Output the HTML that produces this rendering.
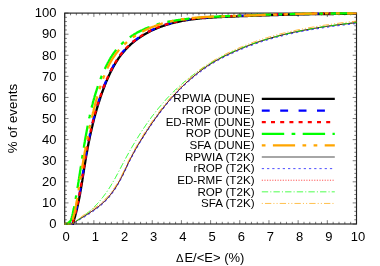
<!DOCTYPE html>
<html><head><meta charset="utf-8"><title>chart</title>
<style>html,body{margin:0;padding:0;background:#fff;}body{width:380px;height:266px;position:relative;overflow:hidden;font-family:"Liberation Sans",sans-serif;}</style></head>
<body>
<svg width="380" height="266" viewBox="0 0 380 266" style="position:absolute;left:0;top:0;will-change:transform">
<rect x="0" y="0" width="380" height="266" fill="#ffffff"/>
<defs><clipPath id="c"><rect x="63.7" y="11.9" width="293.8" height="213.1"/></clipPath>
</defs>
<g stroke="#222222" stroke-width="0.6" fill="none">
<rect x="64.7" y="13.1" width="291.8" height="210.9" stroke-width="1.15"/>
<path d="M64.70,224.0v-3.8M64.70,13.1v3.8M70.54,224.0v-2.2M70.54,13.1v2.2M76.37,224.0v-2.2M76.37,13.1v2.2M82.21,224.0v-2.2M82.21,13.1v2.2M88.04,224.0v-2.2M88.04,13.1v2.2M93.88,224.0v-3.8M93.88,13.1v3.8M99.72,224.0v-2.2M99.72,13.1v2.2M105.55,224.0v-2.2M105.55,13.1v2.2M111.39,224.0v-2.2M111.39,13.1v2.2M117.22,224.0v-2.2M117.22,13.1v2.2M123.06,224.0v-3.8M123.06,13.1v3.8M128.90,224.0v-2.2M128.90,13.1v2.2M134.73,224.0v-2.2M134.73,13.1v2.2M140.57,224.0v-2.2M140.57,13.1v2.2M146.40,224.0v-2.2M146.40,13.1v2.2M152.24,224.0v-3.8M152.24,13.1v3.8M158.08,224.0v-2.2M158.08,13.1v2.2M163.91,224.0v-2.2M163.91,13.1v2.2M169.75,224.0v-2.2M169.75,13.1v2.2M175.58,224.0v-2.2M175.58,13.1v2.2M181.42,224.0v-3.8M181.42,13.1v3.8M187.26,224.0v-2.2M187.26,13.1v2.2M193.09,224.0v-2.2M193.09,13.1v2.2M198.93,224.0v-2.2M198.93,13.1v2.2M204.76,224.0v-2.2M204.76,13.1v2.2M210.60,224.0v-3.8M210.60,13.1v3.8M216.44,224.0v-2.2M216.44,13.1v2.2M222.27,224.0v-2.2M222.27,13.1v2.2M228.11,224.0v-2.2M228.11,13.1v2.2M233.94,224.0v-2.2M233.94,13.1v2.2M239.78,224.0v-3.8M239.78,13.1v3.8M245.62,224.0v-2.2M245.62,13.1v2.2M251.45,224.0v-2.2M251.45,13.1v2.2M257.29,224.0v-2.2M257.29,13.1v2.2M263.12,224.0v-2.2M263.12,13.1v2.2M268.96,224.0v-3.8M268.96,13.1v3.8M274.80,224.0v-2.2M274.80,13.1v2.2M280.63,224.0v-2.2M280.63,13.1v2.2M286.47,224.0v-2.2M286.47,13.1v2.2M292.30,224.0v-2.2M292.30,13.1v2.2M298.14,224.0v-3.8M298.14,13.1v3.8M303.98,224.0v-2.2M303.98,13.1v2.2M309.81,224.0v-2.2M309.81,13.1v2.2M315.65,224.0v-2.2M315.65,13.1v2.2M321.48,224.0v-2.2M321.48,13.1v2.2M327.32,224.0v-3.8M327.32,13.1v3.8M333.16,224.0v-2.2M333.16,13.1v2.2M338.99,224.0v-2.2M338.99,13.1v2.2M344.83,224.0v-2.2M344.83,13.1v2.2M350.66,224.0v-2.2M350.66,13.1v2.2M356.50,224.0v-3.8M356.50,13.1v3.8M64.7,224.00h3.8M356.5,224.00h-3.8M64.7,219.78h2.2M356.5,219.78h-2.2M64.7,215.56h2.2M356.5,215.56h-2.2M64.7,211.35h2.2M356.5,211.35h-2.2M64.7,207.13h2.2M356.5,207.13h-2.2M64.7,202.91h3.8M356.5,202.91h-3.8M64.7,198.69h2.2M356.5,198.69h-2.2M64.7,194.47h2.2M356.5,194.47h-2.2M64.7,190.26h2.2M356.5,190.26h-2.2M64.7,186.04h2.2M356.5,186.04h-2.2M64.7,181.82h3.8M356.5,181.82h-3.8M64.7,177.60h2.2M356.5,177.60h-2.2M64.7,173.38h2.2M356.5,173.38h-2.2M64.7,169.17h2.2M356.5,169.17h-2.2M64.7,164.95h2.2M356.5,164.95h-2.2M64.7,160.73h3.8M356.5,160.73h-3.8M64.7,156.51h2.2M356.5,156.51h-2.2M64.7,152.29h2.2M356.5,152.29h-2.2M64.7,148.08h2.2M356.5,148.08h-2.2M64.7,143.86h2.2M356.5,143.86h-2.2M64.7,139.64h3.8M356.5,139.64h-3.8M64.7,135.42h2.2M356.5,135.42h-2.2M64.7,131.20h2.2M356.5,131.20h-2.2M64.7,126.99h2.2M356.5,126.99h-2.2M64.7,122.77h2.2M356.5,122.77h-2.2M64.7,118.55h3.8M356.5,118.55h-3.8M64.7,114.33h2.2M356.5,114.33h-2.2M64.7,110.11h2.2M356.5,110.11h-2.2M64.7,105.90h2.2M356.5,105.90h-2.2M64.7,101.68h2.2M356.5,101.68h-2.2M64.7,97.46h3.8M356.5,97.46h-3.8M64.7,93.24h2.2M356.5,93.24h-2.2M64.7,89.02h2.2M356.5,89.02h-2.2M64.7,84.81h2.2M356.5,84.81h-2.2M64.7,80.59h2.2M356.5,80.59h-2.2M64.7,76.37h3.8M356.5,76.37h-3.8M64.7,72.15h2.2M356.5,72.15h-2.2M64.7,67.93h2.2M356.5,67.93h-2.2M64.7,63.72h2.2M356.5,63.72h-2.2M64.7,59.50h2.2M356.5,59.50h-2.2M64.7,55.28h3.8M356.5,55.28h-3.8M64.7,51.06h2.2M356.5,51.06h-2.2M64.7,46.84h2.2M356.5,46.84h-2.2M64.7,42.63h2.2M356.5,42.63h-2.2M64.7,38.41h2.2M356.5,38.41h-2.2M64.7,34.19h3.8M356.5,34.19h-3.8M64.7,29.97h2.2M356.5,29.97h-2.2M64.7,25.75h2.2M356.5,25.75h-2.2M64.7,21.54h2.2M356.5,21.54h-2.2M64.7,17.32h2.2M356.5,17.32h-2.2M64.7,13.10h3.8M356.5,13.10h-3.8"/>
</g>
<g fill="none" clip-path="url(#c)" stroke-linejoin="round">
<path d="M64.7,224.0 L72.8,224.2 73.1,223.1 73.4,222.1 73.7,221.1 74.0,220.1 74.3,219.0 74.6,218.0 74.9,217.0 75.2,216.0 75.4,214.9 75.7,213.9 76.0,212.9 76.2,211.9 76.5,210.8 76.7,209.8 77.0,208.8 77.2,207.7 77.4,206.7 77.7,205.7 77.9,204.6 78.1,203.6 78.3,202.6 78.6,201.5 78.8,200.5 79.0,199.4 79.2,198.4 79.4,197.4 79.6,196.3 79.8,195.3 80.0,194.2 80.2,193.2 80.3,192.2 80.5,191.1 80.7,190.1 80.9,189.0 81.1,188.0 81.2,186.9 81.4,185.9 81.6,184.8 81.8,183.8 81.9,182.7 82.1,181.7 82.3,180.7 82.4,179.6 82.6,178.6 82.8,177.5 82.9,176.5 83.1,175.4 83.3,174.4 83.4,173.3 83.6,172.3 83.8,171.2 83.9,170.2 84.1,169.1 84.2,168.1 84.4,167.0 84.6,166.0 84.7,164.9 84.9,163.9 85.1,162.8 85.3,161.8 85.4,160.7 85.6,159.7 85.8,158.6 86.0,157.6 86.1,156.5 86.3,155.5 86.5,154.4 86.7,153.4 86.9,152.3 87.1,151.3 87.3,150.2 87.4,149.2 87.6,148.1 87.8,147.1 88.0,146.0 88.2,145.0 88.4,144.0 88.6,142.9 88.8,141.9 89.1,140.8 89.3,139.8 89.5,138.7 89.7,137.7 89.9,136.6 90.1,135.6 90.4,134.6 90.6,133.5 90.8,132.5 91.1,131.4 91.3,130.4 91.5,129.4 91.8,128.3 92.0,127.3 92.3,126.2 92.5,125.2 92.7,124.2 93.0,123.1 93.3,122.1 93.5,121.1 93.8,120.0 94.0,119.0 94.3,118.0 94.6,116.9 94.9,115.9 95.1,114.9 95.4,113.9 95.7,112.8 96.0,111.8 96.3,110.8 96.6,109.7 96.9,108.7 97.2,107.7 97.5,106.7 97.8,105.7 98.1,104.6 98.4,103.6 98.7,102.6 99.1,101.6 99.4,100.6 99.7,99.6 100.1,98.6 100.4,97.5 100.7,96.5 101.1,95.5 101.4,94.5 101.8,93.5 102.1,92.5 102.5,91.5 102.9,90.5 103.2,89.5 103.6,88.5 104.0,87.5 104.4,86.5 104.8,85.5 105.1,84.5 105.5,83.5 105.9,82.5 106.3,81.6 106.8,80.6 107.2,79.6 107.6,78.6 108.0,77.7 108.5,76.7 108.9,75.7 109.3,74.8 109.8,73.8 110.2,72.8 110.7,71.9 111.2,70.9 111.7,70.0 112.2,69.1 112.6,68.1 113.1,67.2 113.7,66.3 114.2,65.4 114.7,64.5 115.2,63.6 115.8,62.7 116.3,61.8 116.9,60.9 117.5,60.0 118.0,59.1 118.6,58.3 119.2,57.4 119.8,56.6 120.4,55.7 121.1,54.9 121.7,54.1 122.4,53.3 123.0,52.5 123.7,51.7 124.4,50.9 125.1,50.1 125.8,49.3 126.5,48.6 127.2,47.8 128.0,47.1 128.7,46.3 129.5,45.6 130.2,44.9 131.0,44.2 131.8,43.5 132.6,42.8 133.4,42.1 134.3,41.5 135.1,40.8 135.9,40.2 136.8,39.5 137.6,38.9 138.5,38.3 139.4,37.7 140.3,37.1 141.2,36.5 142.1,35.9 143.0,35.4 143.9,34.8 144.8,34.3 145.7,33.7 146.6,33.2 147.6,32.7 148.5,32.2 149.4,31.7 150.4,31.2 151.3,30.8 152.3,30.3 153.2,29.9 154.2,29.4 155.2,29.0 156.1,28.6 157.1,28.2 158.1,27.8 159.1,27.4 160.0,27.0 161.0,26.7 162.0,26.3 163.0,26.0 164.0,25.6 165.0,25.3 166.0,25.0 167.0,24.7 168.0,24.4 169.0,24.1 170.0,23.8 171.0,23.5 172.0,23.2 173.0,23.0 174.1,22.7 175.1,22.5 176.1,22.2 177.1,22.0 178.2,21.8 179.2,21.5 180.2,21.3 181.2,21.1 182.3,20.9 183.3,20.7 184.4,20.6 185.4,20.4 186.5,20.2 187.5,20.0 188.5,19.9 189.6,19.7 190.6,19.6 191.7,19.4 192.8,19.3 193.8,19.1 194.9,19.0 195.9,18.9 197.0,18.8 198.0,18.7 199.1,18.5 200.2,18.4 201.2,18.3 202.3,18.2 203.4,18.1 204.4,18.1 205.5,18.0 206.6,17.9 207.6,17.8 208.7,17.7 209.8,17.7 210.8,17.6 211.9,17.5 213.0,17.4 214.1,17.4 215.1,17.3 216.2,17.3 217.3,17.2 218.4,17.1 219.4,17.1 220.5,17.0 221.6,17.0 222.6,16.9 223.7,16.9 224.8,16.8 225.9,16.8 226.9,16.8 228.0,16.7 229.1,16.7 230.2,16.6 231.2,16.6 232.3,16.5 233.4,16.5 234.4,16.5 235.5,16.4 236.6,16.4 237.6,16.3 238.7,16.3 239.8,16.2 240.8,16.2 241.9,16.2 243.0,16.1 244.0,16.1 245.1,16.0 246.2,16.0 247.2,16.0 248.3,15.9 249.4,15.9 250.4,15.8 251.5,15.8 252.5,15.8 253.6,15.7 254.7,15.7 255.7,15.7 256.8,15.6 257.8,15.6 258.9,15.6 260.0,15.5 261.0,15.5 262.1,15.4 263.1,15.4 264.2,15.4 265.3,15.3 266.3,15.3 267.4,15.3 268.4,15.2 269.5,15.2 270.5,15.2 271.6,15.1 272.7,15.1 273.7,15.1 274.8,15.1 275.8,15.0 276.9,15.0 277.9,15.0 279.0,14.9 280.0,14.9 281.1,14.9 282.2,14.8 283.2,14.8 284.3,14.8 285.3,14.8 286.4,14.7 287.4,14.7 288.5,14.7 289.5,14.7 290.6,14.6 291.7,14.6 292.7,14.6 293.8,14.6 294.8,14.5 295.9,14.5 296.9,14.5 298.0,14.5 299.1,14.4 300.1,14.4 301.2,14.4 302.2,14.4 303.3,14.4 304.3,14.3 305.4,14.3 306.4,14.3 307.5,14.3 308.6,14.3 309.6,14.2 310.7,14.2 311.7,14.2 312.8,14.2 313.9,14.2 314.9,14.2 316.0,14.1 317.0,14.1 318.1,14.1 319.1,14.1 320.2,14.1 321.3,14.1 322.3,14.1 323.4,14.0 324.5,14.0 325.5,14.0 326.6,14.0 327.6,14.0 328.7,14.0 329.8,14.0 330.8,14.0 331.9,14.0 333.0,14.0 334.0,13.9 335.1,13.9 336.2,13.9 337.2,13.9 338.3,13.9 339.4,13.9 340.4,13.9 341.5,13.9 342.6,13.9 343.6,13.9 344.7,13.9 345.8,13.9 346.8,13.9 347.9,13.9 349.0,13.9 350.1,13.9 351.1,13.9 352.2,13.9 353.3,13.9 354.3,13.9 355.4,13.9 356.5,13.9" stroke="#000000" stroke-width="2.3"/>
<path d="M64.7,224.0 L72.3,224.0 72.6,223.0 72.9,222.0 73.2,220.9 73.5,219.9 73.8,218.9 74.1,217.9 74.4,216.9 74.7,215.8 75.0,214.8 75.2,213.8 75.5,212.8 75.7,211.7 76.0,210.7 76.2,209.7 76.5,208.7 76.7,207.6 77.0,206.6 77.2,205.6 77.4,204.5 77.6,203.5 77.9,202.5 78.1,201.4 78.3,200.4 78.5,199.3 78.7,198.3 78.9,197.3 79.1,196.2 79.3,195.2 79.5,194.1 79.7,193.1 79.9,192.1 80.0,191.0 80.2,190.0 80.4,188.9 80.6,187.9 80.7,186.8 80.9,185.8 81.1,184.8 81.3,183.7 81.4,182.7 81.6,181.6 81.8,180.6 81.9,179.5 82.1,178.5 82.3,177.4 82.4,176.4 82.6,175.3 82.8,174.3 82.9,173.2 83.1,172.2 83.3,171.1 83.4,170.1 83.6,169.0 83.8,168.0 83.9,166.9 84.1,165.9 84.3,164.8 84.4,163.8 84.6,162.7 84.8,161.7 84.9,160.6 85.1,159.6 85.3,158.5 85.5,157.5 85.6,156.4 85.8,155.4 86.0,154.3 86.2,153.3 86.4,152.2 86.6,151.2 86.8,150.1 87.0,149.1 87.1,148.0 87.3,147.0 87.5,146.0 87.7,144.9 87.9,143.9 88.2,142.8 88.4,141.8 88.6,140.7 88.8,139.7 89.0,138.6 89.2,137.6 89.4,136.5 89.7,135.5 89.9,134.5 90.1,133.4 90.3,132.4 90.6,131.3 90.8,130.3 91.0,129.2 91.3,128.2 91.5,127.2 91.8,126.1 92.0,125.1 92.3,124.0 92.5,123.0 92.8,122.0 93.0,120.9 93.3,119.9 93.6,118.9 93.8,117.8 94.1,116.8 94.4,115.8 94.7,114.7 94.9,113.7 95.2,112.7 95.5,111.7 95.8,110.6 96.1,109.6 96.4,108.6 96.7,107.6 97.0,106.5 97.3,105.5 97.6,104.5 97.9,103.5 98.3,102.5 98.6,101.4 98.9,100.4 99.2,99.4 99.6,98.4 99.9,97.4 100.3,96.4 100.6,95.4 101.0,94.4 101.3,93.3 101.7,92.3 102.0,91.3 102.4,90.3 102.8,89.3 103.1,88.3 103.5,87.3 103.9,86.3 104.3,85.3 104.7,84.3 105.1,83.4 105.5,82.4 105.9,81.4 106.3,80.4 106.7,79.4 107.1,78.4 107.6,77.4 108.0,76.5 108.4,75.5 108.9,74.5 109.3,73.6 109.8,72.6 110.3,71.7 110.7,70.7 111.2,69.8 111.7,68.8 112.2,67.9 112.7,67.0 113.2,66.0 113.7,65.1 114.3,64.2 114.8,63.3 115.4,62.4 115.9,61.5 116.5,60.6 117.0,59.7 117.6,58.9 118.2,58.0 118.8,57.1 119.4,56.3 120.0,55.4 120.7,54.6 121.3,53.8 122.0,52.9 122.6,52.1 123.3,51.3 124.0,50.5 124.7,49.8 125.4,49.0 126.1,48.2 126.9,47.4 127.6,46.7 128.4,46.0 129.1,45.2 129.9,44.5 130.7,43.8 131.5,43.1 132.3,42.4 133.1,41.7 133.9,41.1 134.8,40.4 135.6,39.8 136.5,39.1 137.4,38.5 138.2,37.9 139.1,37.3 140.0,36.7 140.9,36.1 141.8,35.5 142.7,34.9 143.6,34.4 144.5,33.8 145.5,33.3 146.4,32.8 147.3,32.3 148.3,31.8 149.2,31.3 150.2,30.8 151.1,30.3 152.1,29.9 153.0,29.4 154.0,29.0 155.0,28.5 155.9,28.1 156.9,27.7 157.9,27.3 158.9,26.9 159.9,26.6 160.8,26.2 161.8,25.8 162.8,25.5 163.8,25.1 164.8,24.8 165.8,24.5 166.8,24.2 167.8,23.9 168.8,23.6 169.9,23.3 170.9,23.0 171.9,22.7 172.9,22.5 173.9,22.2 175.0,22.0 176.0,21.7 177.0,21.5 178.0,21.3 179.1,21.1 180.1,20.8 181.2,20.6 182.2,20.4 183.2,20.2 184.3,20.1 185.3,19.9 186.4,19.7 187.4,19.5 188.5,19.4 189.5,19.2 190.6,19.1 191.6,18.9 192.7,18.8 193.7,18.7 194.8,18.5 195.9,18.4 196.9,18.3 198.0,18.2 199.1,18.1 200.1,17.9 201.2,17.8 202.3,17.7 203.3,17.6 204.4,17.6 205.5,17.5 206.5,17.4 207.6,17.3 208.7,17.2 209.7,17.2 210.8,17.1 211.9,17.0 213.0,16.9 214.0,16.9 215.1,16.8 216.2,16.8 217.3,16.7 218.3,16.6 219.4,16.6 220.5,16.5 221.6,16.5 222.6,16.4 223.7,16.4 224.8,16.3 225.8,16.3 226.9,16.3 228.0,16.2 229.1,16.2 230.1,16.1 231.2,16.1 232.3,16.0 233.3,16.0 234.4,16.0 235.5,15.9 236.6,15.9 237.6,15.8 238.7,15.8 239.8,15.7 240.8,15.7 241.9,15.7 243.0,15.6 244.0,15.6 245.1,15.5 246.1,15.5 247.2,15.5 248.3,15.4 249.3,15.4 250.4,15.3 251.5,15.3 252.5,15.3 253.6,15.2 254.6,15.2 255.7,15.2 256.8,15.1 257.8,15.1 258.9,15.1 259.9,15.0 261.0,15.0 262.1,14.9 263.1,14.9 264.2,14.9 265.2,14.8 266.3,14.8 267.4,14.8 268.4,14.7 269.5,14.7 270.5,14.7 271.6,14.6 272.6,14.6 273.7,14.6 274.8,14.6 275.8,14.5 276.9,14.5 277.9,14.5 279.0,14.4 280.0,14.4 281.1,14.4 282.1,14.3 283.2,14.3 284.3,14.3 285.3,14.3 286.4,14.2 287.4,14.2 288.5,14.2 289.5,14.2 290.6,14.1 291.6,14.1 292.7,14.1 293.8,14.1 294.8,14.0 295.9,14.0 296.9,14.0 298.0,14.0 299.0,13.9 300.1,13.9 301.2,13.9 302.2,13.9 303.3,13.9 304.3,13.8 305.4,13.8 306.4,13.8 307.5,13.8 308.6,13.8 309.6,13.7 310.7,13.7 311.7,13.7 312.8,13.7 313.8,13.7 314.9,13.7 316.0,13.6 317.0,13.6 318.1,13.6 319.1,13.6 320.2,13.6 321.3,13.6 322.3,13.6 323.4,13.5 324.4,13.5 325.5,13.5 326.6,13.5 327.6,13.5 328.7,13.5 329.8,13.5 330.8,13.5 331.9,13.5 333.0,13.5 334.0,13.4 335.1,13.4 336.1,13.4 337.2,13.4 338.3,13.4 339.3,13.4 340.4,13.4 341.5,13.4 342.6,13.4 343.6,13.4 344.7,13.4 345.8,13.4 346.8,13.4 347.9,13.4 349.0,13.4 350.1,13.4 351.1,13.4 352.2,13.4 353.3,13.4 354.3,13.4 355.4,13.4 356.5,13.4" stroke="#0000ff" stroke-width="2.3" stroke-dasharray="7.90,10.50"/>
<path d="M64.7,224.0 L72.3,224.0 72.6,223.0 72.9,222.0 73.2,220.9 73.5,219.9 73.8,218.9 74.1,217.9 74.4,216.9 74.7,215.8 75.0,214.8 75.2,213.8 75.5,212.8 75.7,211.7 76.0,210.7 76.2,209.7 76.5,208.7 76.7,207.6 77.0,206.6 77.2,205.6 77.4,204.5 77.6,203.5 77.9,202.5 78.1,201.4 78.3,200.4 78.5,199.3 78.7,198.3 78.9,197.3 79.1,196.2 79.3,195.2 79.5,194.1 79.7,193.1 79.9,192.1 80.0,191.0 80.2,190.0 80.4,188.9 80.6,187.9 80.7,186.8 80.9,185.8 81.1,184.8 81.3,183.7 81.4,182.7 81.6,181.6 81.8,180.6 81.9,179.5 82.1,178.5 82.3,177.4 82.4,176.4 82.6,175.3 82.8,174.3 82.9,173.2 83.1,172.2 83.3,171.1 83.4,170.1 83.6,169.0 83.8,168.0 83.9,166.9 84.1,165.9 84.3,164.8 84.4,163.8 84.6,162.7 84.8,161.7 84.9,160.6 85.1,159.6 85.3,158.5 85.5,157.5 85.6,156.4 85.8,155.4 86.0,154.3 86.2,153.3 86.4,152.2 86.6,151.2 86.8,150.1 87.0,149.1 87.1,148.0 87.3,147.0 87.5,146.0 87.7,144.9 87.9,143.9 88.2,142.8 88.4,141.8 88.6,140.7 88.8,139.7 89.0,138.6 89.2,137.6 89.4,136.5 89.7,135.5 89.9,134.5 90.1,133.4 90.3,132.4 90.6,131.3 90.8,130.3 91.0,129.2 91.3,128.2 91.5,127.2 91.8,126.1 92.0,125.1 92.3,124.0 92.5,123.0 92.8,122.0 93.0,120.9 93.3,119.9 93.6,118.9 93.8,117.8 94.1,116.8 94.4,115.8 94.7,114.7 94.9,113.7 95.2,112.7 95.5,111.7 95.8,110.6 96.1,109.6 96.4,108.6 96.7,107.6 97.0,106.5 97.3,105.5 97.6,104.5 97.9,103.5 98.3,102.5 98.6,101.4 98.9,100.4 99.2,99.4 99.6,98.4 99.9,97.4 100.3,96.4 100.6,95.4 101.0,94.4 101.3,93.3 101.7,92.3 102.0,91.3 102.4,90.3 102.8,89.3 103.1,88.3 103.5,87.3 103.9,86.3 104.3,85.3 104.7,84.3 105.1,83.4 105.5,82.4 105.9,81.4 106.3,80.4 106.7,79.4 107.1,78.4 107.6,77.4 108.0,76.5 108.4,75.5 108.9,74.5 109.3,73.6 109.8,72.6 110.3,71.7 110.7,70.7 111.2,69.8 111.7,68.8 112.2,67.9 112.7,67.0 113.2,66.0 113.7,65.1 114.3,64.2 114.8,63.3 115.4,62.4 115.9,61.5 116.5,60.6 117.0,59.7 117.6,58.9 118.2,58.0 118.8,57.1 119.4,56.3 120.0,55.4 120.7,54.6 121.3,53.8 122.0,52.9 122.6,52.1 123.3,51.3 124.0,50.5 124.7,49.8 125.4,49.0 126.1,48.2 126.9,47.4 127.6,46.7 128.4,46.0 129.1,45.2 129.9,44.5 130.7,43.8 131.5,43.1 132.3,42.4 133.1,41.7 133.9,41.1 134.8,40.4 135.6,39.8 136.5,39.1 137.4,38.5 138.2,37.9 139.1,37.3 140.0,36.7 140.9,36.1 141.8,35.5 142.7,34.9 143.6,34.4 144.5,33.8 145.5,33.3 146.4,32.8 147.3,32.3 148.3,31.8 149.2,31.3 150.2,30.8 151.1,30.3 152.1,29.9 153.0,29.4 154.0,29.0 155.0,28.5 155.9,28.1 156.9,27.7 157.9,27.3 158.9,26.9 159.9,26.6 160.8,26.2 161.8,25.8 162.8,25.5 163.8,25.1 164.8,24.8 165.8,24.5 166.8,24.2 167.8,23.9 168.8,23.6 169.9,23.3 170.9,23.0 171.9,22.7 172.9,22.5 173.9,22.2 175.0,22.0 176.0,21.7 177.0,21.5 178.0,21.3 179.1,21.1 180.1,20.8 181.2,20.6 182.2,20.4 183.2,20.2 184.3,20.1 185.3,19.9 186.4,19.7 187.4,19.5 188.5,19.4 189.5,19.2 190.6,19.1 191.6,18.9 192.7,18.8 193.7,18.7 194.8,18.5 195.9,18.4 196.9,18.3 198.0,18.2 199.1,18.1 200.1,17.9 201.2,17.8 202.3,17.7 203.3,17.6 204.4,17.6 205.5,17.5 206.5,17.4 207.6,17.3 208.7,17.2 209.7,17.2 210.8,17.1 211.9,17.0 213.0,16.9 214.0,16.9 215.1,16.8 216.2,16.8 217.3,16.7 218.3,16.6 219.4,16.6 220.5,16.5 221.6,16.5 222.6,16.4 223.7,16.4 224.8,16.3 225.8,16.3 226.9,16.3 228.0,16.2 229.1,16.2 230.1,16.1 231.2,16.1 232.3,16.0 233.3,16.0 234.4,16.0 235.5,15.9 236.6,15.9 237.6,15.8 238.7,15.8 239.8,15.7 240.8,15.7 241.9,15.7 243.0,15.6 244.0,15.6 245.1,15.5 246.1,15.5 247.2,15.5 248.3,15.4 249.3,15.4 250.4,15.3 251.5,15.3 252.5,15.3 253.6,15.2 254.6,15.2 255.7,15.2 256.8,15.1 257.8,15.1 258.9,15.1 259.9,15.0 261.0,15.0 262.1,14.9 263.1,14.9 264.2,14.9 265.2,14.8 266.3,14.8 267.4,14.8 268.4,14.7 269.5,14.7 270.5,14.7 271.6,14.6 272.6,14.6 273.7,14.6 274.8,14.6 275.8,14.5 276.9,14.5 277.9,14.5 279.0,14.4 280.0,14.4 281.1,14.4 282.1,14.3 283.2,14.3 284.3,14.3 285.3,14.3 286.4,14.2 287.4,14.2 288.5,14.2 289.5,14.2 290.6,14.1 291.6,14.1 292.7,14.1 293.8,14.1 294.8,14.0 295.9,14.0 296.9,14.0 298.0,14.0 299.0,13.9 300.1,13.9 301.2,13.9 302.2,13.9 303.3,13.9 304.3,13.8 305.4,13.8 306.4,13.8 307.5,13.8 308.6,13.8 309.6,13.7 310.7,13.7 311.7,13.7 312.8,13.7 313.8,13.7 314.9,13.7 316.0,13.6 317.0,13.6 318.1,13.6 319.1,13.6 320.2,13.6 321.3,13.6 322.3,13.6 323.4,13.5 324.4,13.5 325.5,13.5 326.6,13.5 327.6,13.5 328.7,13.5 329.8,13.5 330.8,13.5 331.9,13.5 333.0,13.5 334.0,13.4 335.1,13.4 336.1,13.4 337.2,13.4 338.3,13.4 339.3,13.4 340.4,13.4 341.5,13.4 342.6,13.4 343.6,13.4 344.7,13.4 345.8,13.4 346.8,13.4 347.9,13.4 349.0,13.4 350.1,13.4 351.1,13.4 352.2,13.4 353.3,13.4 354.3,13.4 355.4,13.4 356.5,13.4" stroke="#ff0000" stroke-width="2.3" stroke-dasharray="4.00,5.20"/>
<path d="M64.7,224.0 L67.5,224.0 67.8,223.1 69.1,222.2 70.1,221.3 70.8,220.3 71.2,219.4 71.5,218.4 71.8,217.5 72.0,216.5 72.3,215.5 72.5,214.5 72.8,213.5 73.0,212.5 73.2,211.5 73.4,210.5 73.6,209.4 73.9,208.4 74.1,207.4 74.3,206.3 74.5,205.3 74.7,204.2 74.9,203.2 75.1,202.1 75.3,201.1 75.5,200.0 75.6,199.0 75.8,197.9 76.0,196.8 76.2,195.8 76.4,194.7 76.6,193.7 76.7,192.6 76.9,191.5 77.1,190.5 77.3,189.4 77.5,188.3 77.6,187.3 77.8,186.2 78.0,185.1 78.1,184.1 78.3,183.0 78.5,181.9 78.6,180.9 78.8,179.8 79.0,178.7 79.1,177.7 79.3,176.6 79.5,175.5 79.6,174.4 79.8,173.4 80.0,172.3 80.1,171.2 80.3,170.2 80.5,169.1 80.6,168.0 80.8,166.9 80.9,165.9 81.1,164.8 81.3,163.7 81.4,162.7 81.6,161.6 81.8,160.5 81.9,159.4 82.1,158.4 82.3,157.3 82.4,156.2 82.6,155.2 82.8,154.1 82.9,153.0 83.1,151.9 83.3,150.9 83.4,149.8 83.6,148.7 83.8,147.7 84.0,146.6 84.1,145.5 84.3,144.4 84.5,143.4 84.7,142.3 84.9,141.2 85.0,140.2 85.2,139.1 85.4,138.0 85.6,136.9 85.8,135.9 86.0,134.8 86.2,133.7 86.4,132.7 86.6,131.6 86.8,130.5 87.0,129.5 87.2,128.4 87.4,127.3 87.6,126.3 87.8,125.2 88.0,124.1 88.2,123.1 88.4,122.0 88.6,120.9 88.9,119.9 89.1,118.8 89.3,117.8 89.6,116.7 89.8,115.6 90.0,114.6 90.3,113.5 90.5,112.5 90.8,111.4 91.0,110.3 91.3,109.3 91.5,108.2 91.8,107.2 92.0,106.1 92.3,105.1 92.6,104.0 92.8,103.0 93.1,101.9 93.4,100.9 93.7,99.8 94.0,98.8 94.3,97.8 94.6,96.7 94.9,95.7 95.2,94.6 95.5,93.6 95.8,92.6 96.2,91.5 96.5,90.5 96.8,89.5 97.1,88.5 97.5,87.4 97.8,86.4 98.2,85.4 98.6,84.4 98.9,83.3 99.3,82.3 99.7,81.3 100.0,80.3 100.4,79.3 100.8,78.3 101.2,77.3 101.6,76.3 102.0,75.3 102.5,74.3 102.9,73.3 103.3,72.3 103.7,71.3 104.2,70.4 104.6,69.4 105.1,68.4 105.5,67.4 106.0,66.5 106.5,65.5 107.0,64.5 107.5,63.6 108.0,62.6 108.5,61.7 109.0,60.7 109.5,59.8 110.1,58.8 110.6,57.9 111.2,57.0 111.8,56.1 112.3,55.2 112.9,54.3 113.5,53.4 114.2,52.5 114.8,51.7 115.4,50.8 116.1,50.0 116.8,49.1 117.5,48.3 118.2,47.5 118.9,46.7 119.6,45.9 120.4,45.1 121.2,44.3 122.0,43.6 122.8,42.8 123.6,42.1 124.4,41.4 125.3,40.7 126.1,40.0 127.0,39.3 127.9,38.6 128.8,38.0 129.7,37.3 130.6,36.7 131.5,36.1 132.4,35.5 133.4,34.9 134.3,34.3 135.3,33.7 136.2,33.2 137.2,32.6 138.1,32.1 139.1,31.6 140.1,31.1 141.1,30.6 142.0,30.2 143.0,29.7 144.0,29.3 145.0,28.8 146.0,28.4 147.0,28.0 148.0,27.6 149.0,27.2 150.0,26.8 151.0,26.5 152.0,26.1 153.0,25.8 154.0,25.4 155.0,25.1 156.0,24.8 157.1,24.5 158.1,24.2 159.1,23.9 160.1,23.6 161.2,23.4 162.2,23.1 163.2,22.9 164.3,22.6 165.3,22.4 166.3,22.2 167.4,21.9 168.4,21.7 169.5,21.5 170.5,21.3 171.6,21.1 172.6,20.9 173.7,20.8 174.7,20.6 175.8,20.4 176.9,20.2 177.9,20.1 179.0,19.9 180.1,19.8 181.1,19.6 182.2,19.5 183.3,19.4 184.3,19.2 185.4,19.1 186.5,19.0 187.5,18.8 188.6,18.7 189.7,18.6 190.8,18.5 191.9,18.4 192.9,18.3 194.0,18.2 195.1,18.1 196.2,18.0 197.3,17.9 198.4,17.8 199.4,17.7 200.5,17.6 201.6,17.5 202.7,17.5 203.8,17.4 204.9,17.3 206.0,17.2 207.1,17.2 208.2,17.1 209.2,17.0 210.3,16.9 211.4,16.9 212.5,16.8 213.6,16.8 214.7,16.7 215.8,16.6 216.9,16.6 218.0,16.5 219.1,16.5 220.2,16.4 221.3,16.4 222.3,16.3 223.4,16.3 224.5,16.2 225.6,16.2 226.7,16.1 227.8,16.1 228.9,16.1 230.0,16.0 231.1,16.0 232.2,15.9 233.3,15.9 234.3,15.8 235.4,15.8 236.5,15.7 237.6,15.7 238.7,15.7 239.8,15.6 240.9,15.6 241.9,15.5 243.0,15.5 244.1,15.5 245.2,15.4 246.3,15.4 247.4,15.3 248.4,15.3 249.5,15.3 250.6,15.2 251.7,15.2 252.8,15.2 253.8,15.1 254.9,15.1 256.0,15.0 257.1,15.0 258.2,15.0 259.2,14.9 260.3,14.9 261.4,14.9 262.5,14.8 263.6,14.8 264.6,14.8 265.7,14.7 266.8,14.7 267.9,14.7 269.0,14.6 270.0,14.6 271.1,14.6 272.2,14.5 273.3,14.5 274.3,14.5 275.4,14.5 276.5,14.4 277.6,14.4 278.6,14.4 279.7,14.3 280.8,14.3 281.9,14.3 282.9,14.3 284.0,14.2 285.1,14.2 286.2,14.2 287.2,14.2 288.3,14.1 289.4,14.1 290.5,14.1 291.6,14.1 292.6,14.0 293.7,14.0 294.8,14.0 295.9,14.0 296.9,14.0 298.0,13.9 299.1,13.9 300.2,13.9 301.2,13.9 302.3,13.9 303.4,13.8 304.5,13.8 305.5,13.8 306.6,13.8 307.7,13.8 308.8,13.8 309.9,13.7 310.9,13.7 312.0,13.7 313.1,13.7 314.2,13.7 315.2,13.7 316.3,13.6 317.4,13.6 318.5,13.6 319.6,13.6 320.6,13.6 321.7,13.6 322.8,13.6 323.9,13.6 325.0,13.5 326.0,13.5 327.1,13.5 328.2,13.5 329.3,13.5 330.4,13.5 331.5,13.5 332.5,13.5 333.6,13.5 334.7,13.5 335.8,13.5 336.9,13.4 338.0,13.4 339.1,13.4 340.1,13.4 341.2,13.4 342.3,13.4 343.4,13.4 344.5,13.4 345.6,13.4 346.7,13.4 347.8,13.4 348.9,13.4 349.9,13.4 351.0,13.4 352.1,13.4 353.2,13.4 354.3,13.4 355.4,13.4 356.5,13.4" stroke="#00ff00" stroke-width="2.3" stroke-dasharray="22.40,7.40,3.70,7.40"/>
<path d="M64.7,224.0 L71.0,224.0 71.4,223.0 71.8,221.9 72.2,220.9 72.6,219.8 72.9,218.8 73.2,217.7 73.5,216.7 73.8,215.6 74.1,214.6 74.3,213.6 74.6,212.5 74.8,211.5 75.1,210.4 75.3,209.4 75.5,208.3 75.7,207.3 75.9,206.2 76.1,205.2 76.2,204.1 76.4,203.1 76.6,202.0 76.8,201.0 77.0,199.9 77.1,198.9 77.3,197.8 77.5,196.8 77.7,195.7 77.8,194.7 78.0,193.6 78.2,192.6 78.3,191.5 78.5,190.5 78.7,189.4 78.8,188.4 79.0,187.3 79.2,186.3 79.3,185.2 79.5,184.2 79.7,183.1 79.8,182.1 80.0,181.0 80.2,180.0 80.3,178.9 80.5,177.8 80.7,176.8 80.8,175.7 81.0,174.7 81.2,173.6 81.4,172.6 81.5,171.5 81.7,170.5 81.9,169.4 82.0,168.4 82.2,167.3 82.4,166.3 82.5,165.2 82.7,164.2 82.9,163.1 83.1,162.0 83.2,161.0 83.4,159.9 83.6,158.9 83.8,157.8 84.0,156.8 84.1,155.7 84.3,154.7 84.5,153.6 84.7,152.6 84.9,151.5 85.1,150.5 85.3,149.4 85.4,148.3 85.6,147.3 85.8,146.2 86.0,145.2 86.2,144.1 86.4,143.1 86.6,142.0 86.8,141.0 87.0,139.9 87.2,138.9 87.5,137.8 87.7,136.8 87.9,135.7 88.1,134.7 88.3,133.6 88.5,132.6 88.7,131.5 89.0,130.4 89.2,129.4 89.4,128.3 89.6,127.3 89.9,126.2 90.1,125.2 90.3,124.1 90.6,123.1 90.8,122.0 91.0,121.0 91.3,119.9 91.5,118.9 91.8,117.8 92.0,116.8 92.3,115.7 92.5,114.7 92.8,113.6 93.0,112.6 93.3,111.6 93.6,110.5 93.8,109.5 94.1,108.4 94.4,107.4 94.6,106.3 94.9,105.3 95.2,104.2 95.5,103.2 95.8,102.1 96.0,101.1 96.3,100.0 96.6,99.0 96.9,98.0 97.2,96.9 97.5,95.9 97.8,94.8 98.1,93.8 98.4,92.7 98.8,91.7 99.1,90.7 99.4,89.6 99.7,88.6 100.0,87.6 100.4,86.5 100.7,85.5 101.1,84.5 101.4,83.5 101.8,82.4 102.1,81.4 102.5,80.4 102.8,79.4 103.2,78.4 103.6,77.4 104.0,76.4 104.4,75.4 104.8,74.4 105.2,73.4 105.6,72.4 106.0,71.4 106.4,70.5 106.8,69.5 107.3,68.5 107.7,67.6 108.2,66.6 108.7,65.7 109.1,64.7 109.6,63.8 110.1,62.9 110.6,61.9 111.2,61.0 111.7,60.1 112.2,59.2 112.8,58.3 113.4,57.4 114.0,56.5 114.6,55.7 115.2,54.8 115.8,53.9 116.5,53.1 117.1,52.2 117.8,51.4 118.5,50.6 119.2,49.8 119.9,49.0 120.6,48.2 121.4,47.4 122.1,46.6 122.9,45.8 123.7,45.1 124.5,44.3 125.3,43.6 126.1,42.9 126.9,42.1 127.7,41.4 128.5,40.7 129.4,40.1 130.3,39.4 131.1,38.7 132.0,38.1 132.9,37.4 133.8,36.8 134.7,36.2 135.6,35.6 136.5,35.0 137.4,34.4 138.3,33.9 139.3,33.3 140.2,32.8 141.1,32.3 142.1,31.8 143.0,31.3 144.0,30.8 145.0,30.3 145.9,29.8 146.9,29.4 147.9,28.9 148.8,28.5 149.8,28.1 150.8,27.6 151.8,27.2 152.8,26.8 153.8,26.5 154.8,26.1 155.8,25.7 156.8,25.4 157.8,25.0 158.8,24.7 159.8,24.4 160.8,24.0 161.8,23.7 162.8,23.4 163.8,23.1 164.9,22.9 165.9,22.6 166.9,22.3 167.9,22.1 169.0,21.8 170.0,21.6 171.0,21.3 172.1,21.1 173.1,20.9 174.2,20.7 175.2,20.5 176.3,20.3 177.3,20.1 178.3,19.9 179.4,19.7 180.5,19.6 181.5,19.4 182.6,19.2 183.6,19.1 184.7,18.9 185.7,18.8 186.8,18.7 187.9,18.5 188.9,18.4 190.0,18.3 191.1,18.2 192.1,18.0 193.2,17.9 194.3,17.8 195.3,17.7 196.4,17.7 197.5,17.6 198.6,17.5 199.6,17.4 200.7,17.3 201.8,17.2 202.9,17.2 204.0,17.1 205.0,17.0 206.1,17.0 207.2,16.9 208.3,16.9 209.4,16.8 210.4,16.8 211.5,16.7 212.6,16.7 213.7,16.6 214.8,16.6 215.9,16.5 216.9,16.5 218.0,16.5 219.1,16.4 220.2,16.4 221.3,16.4 222.4,16.3 223.5,16.3 224.5,16.3 225.6,16.2 226.7,16.2 227.8,16.2 228.9,16.1 229.9,16.1 231.0,16.1 232.1,16.0 233.2,16.0 234.3,16.0 235.3,15.9 236.4,15.9 237.5,15.9 238.6,15.8 239.7,15.8 240.7,15.8 241.8,15.7 242.9,15.7 244.0,15.7 245.0,15.6 246.1,15.6 247.2,15.6 248.3,15.5 249.3,15.5 250.4,15.4 251.5,15.4 252.5,15.4 253.6,15.3 254.7,15.3 255.8,15.3 256.8,15.2 257.9,15.2 259.0,15.1 260.0,15.1 261.1,15.1 262.2,15.0 263.3,15.0 264.3,15.0 265.4,14.9 266.5,14.9 267.5,14.9 268.6,14.8 269.7,14.8 270.7,14.7 271.8,14.7 272.9,14.7 273.9,14.6 275.0,14.6 276.1,14.6 277.1,14.5 278.2,14.5 279.3,14.5 280.4,14.4 281.4,14.4 282.5,14.4 283.6,14.3 284.6,14.3 285.7,14.3 286.8,14.2 287.8,14.2 288.9,14.2 290.0,14.1 291.0,14.1 292.1,14.1 293.2,14.0 294.2,14.0 295.3,14.0 296.4,13.9 297.4,13.9 298.5,13.9 299.6,13.9 300.6,13.8 301.7,13.8 302.8,13.8 303.8,13.8 304.9,13.7 306.0,13.7 307.0,13.7 308.1,13.7 309.2,13.6 310.2,13.6 311.3,13.6 312.4,13.6 313.4,13.6 314.5,13.5 315.6,13.5 316.7,13.5 317.7,13.5 318.8,13.5 319.9,13.4 320.9,13.4 322.0,13.4 323.1,13.4 324.2,13.4 325.2,13.4 326.3,13.4 327.4,13.3 328.4,13.3 329.5,13.3 330.6,13.3 331.7,13.3 332.7,13.3 333.8,13.3 334.9,13.3 336.0,13.3 337.0,13.3 338.1,13.3 339.2,13.3 340.3,13.3 341.4,13.3 342.4,13.3 343.5,13.3 344.6,13.3 345.7,13.3 346.8,13.3 347.8,13.3 348.9,13.3 350.0,13.3 351.1,13.3 352.2,13.3 353.2,13.3 354.3,13.3 355.4,13.3 356.5,13.3" stroke="#ffa500" stroke-width="2.3" stroke-dasharray="22.20,7.40,3.70,7.40,3.70,7.40" stroke-dashoffset="40.70"/>
<path d="M64.7,224.0 L72.3,224.0 73.0,223.5 73.8,223.0 74.5,222.4 75.3,221.9 76.0,221.4 76.8,220.9 77.5,220.4 78.3,219.9 79.1,219.4 79.9,218.9 80.6,218.4 81.4,217.9 82.2,217.4 83.0,217.0 83.8,216.5 84.6,216.0 85.4,215.5 86.1,215.0 86.9,214.5 87.7,214.0 88.5,213.5 89.3,213.0 90.1,212.5 90.8,211.9 91.6,211.4 92.4,210.9 93.2,210.4 93.9,209.9 94.7,209.3 95.4,208.8 96.2,208.2 96.9,207.7 97.7,207.1 98.4,206.6 99.2,206.0 99.9,205.4 100.6,204.8 101.3,204.2 102.0,203.6 102.7,203.0 103.4,202.4 104.0,201.8 104.7,201.1 105.4,200.5 106.0,199.8 106.7,199.1 107.3,198.4 107.9,197.8 108.5,197.1 109.1,196.4 109.7,195.6 110.3,194.9 110.9,194.2 111.4,193.5 112.0,192.7 112.5,192.0 113.1,191.2 113.6,190.5 114.1,189.7 114.7,189.0 115.2,188.2 115.7,187.4 116.2,186.6 116.6,185.9 117.1,185.1 117.6,184.3 118.1,183.5 118.5,182.7 119.0,181.9 119.4,181.1 119.9,180.3 120.3,179.5 120.7,178.7 121.1,177.9 121.5,177.1 122.0,176.3 122.4,175.5 122.8,174.7 123.2,173.9 123.5,173.0 123.9,172.2 124.3,171.4 124.7,170.6 125.1,169.8 125.5,169.0 125.9,168.2 126.3,167.3 126.7,166.5 127.0,165.7 127.4,164.9 127.8,164.1 128.2,163.2 128.6,162.4 129.0,161.6 129.4,160.8 129.8,160.0 130.3,159.1 130.7,158.3 131.1,157.5 131.5,156.7 132.0,155.9 132.4,155.0 132.8,154.2 133.3,153.4 133.7,152.6 134.2,151.8 134.6,150.9 135.1,150.1 135.5,149.3 136.0,148.5 136.5,147.7 136.9,146.9 137.4,146.0 137.9,145.2 138.4,144.4 138.8,143.6 139.3,142.8 139.8,142.0 140.3,141.2 140.8,140.4 141.3,139.6 141.8,138.8 142.3,138.0 142.8,137.2 143.3,136.4 143.8,135.6 144.3,134.8 144.8,134.0 145.3,133.2 145.8,132.4 146.3,131.7 146.8,130.9 147.3,130.1 147.8,129.3 148.3,128.6 148.8,127.8 149.4,127.0 149.9,126.2 150.4,125.5 150.9,124.7 151.4,124.0 151.9,123.2 152.5,122.4 153.0,121.7 153.5,120.9 154.0,120.2 154.6,119.4 155.1,118.7 155.6,118.0 156.2,117.2 156.7,116.5 157.2,115.7 157.8,115.0 158.3,114.3 158.9,113.5 159.4,112.8 159.9,112.1 160.5,111.4 161.0,110.6 161.6,109.9 162.2,109.2 162.7,108.5 163.3,107.8 163.8,107.1 164.4,106.3 165.0,105.6 165.6,104.9 166.1,104.2 166.7,103.5 167.3,102.8 167.9,102.1 168.5,101.4 169.1,100.7 169.6,100.0 170.2,99.3 170.8,98.7 171.4,98.0 172.1,97.3 172.7,96.6 173.3,95.9 173.9,95.2 174.5,94.6 175.1,93.9 175.8,93.2 176.4,92.5 177.0,91.9 177.7,91.2 178.3,90.5 179.0,89.9 179.6,89.2 180.3,88.5 180.9,87.9 181.6,87.2 182.3,86.6 182.9,85.9 183.6,85.3 184.3,84.6 184.9,84.0 185.6,83.4 186.3,82.7 187.0,82.1 187.7,81.5 188.4,80.8 189.1,80.2 189.8,79.6 190.5,79.0 191.2,78.4 191.9,77.8 192.6,77.2 193.3,76.6 194.0,76.0 194.8,75.4 195.5,74.8 196.2,74.2 196.9,73.6 197.7,73.0 198.4,72.5 199.1,71.9 199.9,71.3 200.6,70.8 201.4,70.2 202.1,69.7 202.9,69.1 203.6,68.6 204.4,68.0 205.1,67.5 205.9,67.0 206.7,66.5 207.4,65.9 208.2,65.4 209.0,64.9 209.7,64.4 210.5,63.9 211.3,63.4 212.1,63.0 212.9,62.5 213.6,62.0 214.4,61.5 215.2,61.1 216.0,60.6 216.8,60.2 217.6,59.7 218.4,59.3 219.2,58.8 220.0,58.4 220.8,58.0 221.6,57.6 222.4,57.1 223.2,56.7 224.1,56.3 224.9,55.9 225.7,55.5 226.5,55.1 227.3,54.7 228.2,54.3 229.0,53.9 229.8,53.6 230.6,53.2 231.5,52.8 232.3,52.4 233.1,52.0 234.0,51.7 234.8,51.3 235.6,50.9 236.5,50.5 237.3,50.2 238.2,49.8 239.0,49.4 239.9,49.1 240.7,48.7 241.6,48.4 242.4,48.0 243.3,47.7 244.1,47.3 245.0,47.0 245.8,46.6 246.7,46.3 247.5,45.9 248.4,45.6 249.3,45.3 250.1,44.9 251.0,44.6 251.9,44.3 252.7,44.0 253.6,43.6 254.5,43.3 255.3,43.0 256.2,42.7 257.1,42.4 257.9,42.1 258.8,41.8 259.7,41.5 260.6,41.2 261.4,40.9 262.3,40.6 263.2,40.4 264.1,40.1 265.0,39.8 265.8,39.5 266.7,39.3 267.6,39.0 268.5,38.7 269.4,38.5 270.3,38.2 271.1,37.9 272.0,37.7 272.9,37.4 273.8,37.2 274.7,36.9 275.6,36.7 276.5,36.4 277.4,36.2 278.3,36.0 279.2,35.7 280.1,35.5 281.0,35.3 281.9,35.0 282.8,34.8 283.6,34.6 284.5,34.4 285.4,34.2 286.3,33.9 287.2,33.7 288.1,33.5 289.1,33.3 290.0,33.1 290.9,32.9 291.8,32.7 292.7,32.5 293.6,32.3 294.5,32.1 295.4,31.9 296.3,31.7 297.2,31.5 298.1,31.3 299.0,31.2 299.9,31.0 300.8,30.8 301.7,30.6 302.6,30.4 303.5,30.3 304.5,30.1 305.4,29.9 306.3,29.7 307.2,29.6 308.1,29.4 309.0,29.3 309.9,29.1 310.8,28.9 311.7,28.8 312.7,28.6 313.6,28.5 314.5,28.3 315.4,28.2 316.3,28.0 317.2,27.9 318.1,27.7 319.1,27.6 320.0,27.4 320.9,27.3 321.8,27.1 322.7,27.0 323.6,26.8 324.5,26.7 325.5,26.6 326.4,26.4 327.3,26.3 328.2,26.2 329.1,26.0 330.0,25.9 330.9,25.8 331.9,25.7 332.8,25.5 333.7,25.4 334.6,25.3 335.5,25.2 336.4,25.0 337.3,24.9 338.3,24.8 339.2,24.7 340.1,24.6 341.0,24.4 341.9,24.3 342.8,24.2 343.7,24.1 344.7,24.0 345.6,23.9 346.5,23.8 347.4,23.7 348.3,23.6 349.2,23.4 350.1,23.3 351.0,23.2 352.0,23.1 352.9,23.0 353.8,22.9 354.7,22.8 355.6,22.7 356.5,22.6" stroke="#000000" stroke-width="1.0"/>
<path d="M64.7,224.0 L72.3,224.0 73.0,223.6 73.8,223.1 74.5,222.6 75.3,222.2 76.0,221.7 76.8,221.3 77.5,220.8 78.3,220.4 79.1,220.0 79.9,219.5 80.6,219.1 81.4,218.6 82.2,218.2 83.0,217.8 83.8,217.3 84.6,216.9 85.4,216.4 86.1,215.9 86.9,215.4 87.7,214.9 88.5,214.4 89.3,213.9 90.1,213.4 90.8,212.8 91.6,212.3 92.4,211.8 93.2,211.3 93.9,210.8 94.7,210.2 95.4,209.7 96.2,209.1 96.9,208.6 97.7,208.0 98.4,207.5 99.2,206.9 99.9,206.3 100.6,205.7 101.3,205.1 102.0,204.5 102.7,203.9 103.4,203.3 104.0,202.7 104.7,202.0 105.4,201.4 106.0,200.7 106.7,200.0 107.3,199.3 107.9,198.7 108.5,198.0 109.1,197.3 109.7,196.5 110.3,195.8 110.9,195.1 111.4,194.4 112.0,193.6 112.5,192.9 113.1,192.1 113.6,191.4 114.1,190.6 114.7,189.9 115.2,189.1 115.7,188.3 116.2,187.5 116.6,186.8 117.1,186.0 117.6,185.2 118.1,184.4 118.5,183.6 119.0,182.8 119.4,182.0 119.9,181.2 120.3,180.4 120.7,179.6 121.1,178.8 121.5,178.0 122.0,177.2 122.4,176.4 122.8,175.6 123.2,174.8 123.5,173.9 123.9,173.1 124.3,172.3 124.7,171.5 125.1,170.7 125.5,169.9 125.9,169.1 126.3,168.2 126.7,167.4 127.0,166.6 127.4,165.8 127.8,165.0 128.2,164.1 128.6,163.3 129.0,162.5 129.4,161.7 129.8,160.9 130.3,160.0 130.7,159.2 131.1,158.4 131.5,157.6 132.0,156.8 132.4,155.9 132.8,155.1 133.3,154.3 133.7,153.5 134.2,152.7 134.6,151.8 135.1,151.0 135.5,150.2 136.0,149.4 136.5,148.6 136.9,147.8 137.4,146.9 137.9,146.1 138.4,145.3 138.8,144.5 139.3,143.7 139.8,142.9 140.3,142.1 140.8,141.3 141.3,140.5 141.8,139.7 142.3,138.9 142.8,138.1 143.3,137.3 143.8,136.5 144.3,135.7 144.8,134.9 145.3,134.1 145.8,133.3 146.3,132.6 146.8,131.8 147.3,131.0 147.8,130.2 148.3,129.5 148.8,128.7 149.4,127.9 149.9,127.1 150.4,126.4 150.9,125.6 151.4,124.9 151.9,124.1 152.5,123.3 153.0,122.6 153.5,121.8 154.0,121.1 154.6,120.3 155.1,119.6 155.6,118.9 156.2,118.1 156.7,117.4 157.2,116.6 157.8,115.9 158.3,115.2 158.9,114.4 159.4,113.7 159.9,113.0 160.5,112.3 161.0,111.5 161.6,110.8 162.2,110.1 162.7,109.4 163.3,108.7 163.8,108.0 164.4,107.2 165.0,106.5 165.6,105.8 166.1,105.1 166.7,104.4 167.3,103.7 167.9,103.0 168.5,102.3 169.1,101.6 169.6,100.9 170.2,100.2 170.8,99.6 171.4,98.9 172.1,98.2 172.7,97.5 173.3,96.8 173.9,96.1 174.5,95.5 175.1,94.8 175.8,94.1 176.4,93.4 177.0,92.8 177.7,92.1 178.3,91.4 179.0,90.8 179.6,90.1 180.3,89.4 180.9,88.8 181.6,88.1 182.3,87.5 182.9,86.8 183.6,86.2 184.3,85.5 184.9,84.9 185.6,84.3 186.3,83.6 187.0,83.0 187.7,82.4 188.4,81.7 189.1,81.1 189.8,80.5 190.5,79.9 191.2,79.3 191.9,78.7 192.6,78.1 193.3,77.5 194.0,76.9 194.8,76.3 195.5,75.7 196.2,75.1 196.9,74.5 197.7,73.9 198.4,73.4 199.1,72.8 199.9,72.2 200.6,71.7 201.4,71.1 202.1,70.6 202.9,70.0 203.6,69.5 204.4,68.9 205.1,68.4 205.9,67.9 206.7,67.4 207.4,66.8 208.2,66.3 209.0,65.8 209.7,65.3 210.5,64.8 211.3,64.3 212.1,63.9 212.9,63.4 213.6,62.9 214.4,62.4 215.2,62.0 216.0,61.5 216.8,61.1 217.6,60.6 218.4,60.2 219.2,59.7 220.0,59.3 220.8,58.9 221.6,58.5 222.4,58.0 223.2,57.6 224.1,57.2 224.9,56.8 225.7,56.4 226.5,56.0 227.3,55.6 228.2,55.2 229.0,54.8 229.8,54.5 230.6,54.1 231.5,53.7 232.3,53.3 233.1,52.9 234.0,52.6 234.8,52.2 235.6,51.8 236.5,51.4 237.3,51.1 238.2,50.7 239.0,50.3 239.9,50.0 240.7,49.6 241.6,49.3 242.4,48.9 243.3,48.6 244.1,48.2 245.0,47.9 245.8,47.5 246.7,47.2 247.5,46.8 248.4,46.5 249.3,46.2 250.1,45.8 251.0,45.5 251.9,45.2 252.7,44.9 253.6,44.5 254.5,44.2 255.3,43.9 256.2,43.6 257.1,43.3 257.9,43.0 258.8,42.7 259.7,42.4 260.6,42.1 261.4,41.8 262.3,41.5 263.2,41.3 264.1,41.0 265.0,40.7 265.8,40.4 266.7,40.2 267.6,39.9 268.5,39.6 269.4,39.4 270.3,39.1 271.1,38.8 272.0,38.6 272.9,38.3 273.8,38.1 274.7,37.8 275.6,37.6 276.5,37.3 277.4,37.1 278.3,36.9 279.2,36.6 280.1,36.4 281.0,36.2 281.9,35.9 282.8,35.7 283.6,35.5 284.5,35.3 285.4,35.1 286.3,34.8 287.2,34.6 288.1,34.4 289.1,34.2 290.0,34.0 290.9,33.8 291.8,33.6 292.7,33.4 293.6,33.2 294.5,33.0 295.4,32.8 296.3,32.6 297.2,32.4 298.1,32.2 299.0,32.1 299.9,31.9 300.8,31.7 301.7,31.5 302.6,31.3 303.5,31.2 304.5,31.0 305.4,30.8 306.3,30.6 307.2,30.5 308.1,30.3 309.0,30.2 309.9,30.0 310.8,29.8 311.7,29.7 312.7,29.5 313.6,29.4 314.5,29.2 315.4,29.1 316.3,28.9 317.2,28.8 318.1,28.6 319.1,28.5 320.0,28.3 320.9,28.2 321.8,28.0 322.7,27.9 323.6,27.7 324.5,27.6 325.5,27.5 326.4,27.3 327.3,27.2 328.2,27.1 329.1,26.9 330.0,26.8 330.9,26.7 331.9,26.6 332.8,26.4 333.7,26.3 334.6,26.2 335.5,26.1 336.4,25.9 337.3,25.8 338.3,25.7 339.2,25.6 340.1,25.5 341.0,25.3 341.9,25.2 342.8,25.1 343.7,25.0 344.7,24.9 345.6,24.8 346.5,24.7 347.4,24.6 348.3,24.5 349.2,24.3 350.1,24.2 351.0,24.1 352.0,24.0 352.9,23.9 353.8,23.8 354.7,23.7 355.6,23.6 356.5,23.5" stroke="#0000ff" stroke-width="0.85" stroke-dasharray="2.25,2.99"/>
<path d="M64.7,224.0 L72.3,224.0 73.0,223.5 73.8,223.0 74.5,222.4 75.3,221.9 76.0,221.4 76.8,220.9 77.5,220.4 78.3,219.9 79.1,219.4 79.9,218.9 80.6,218.4 81.4,217.9 82.2,217.4 83.0,217.0 83.8,216.5 84.6,216.0 85.4,215.5 86.1,215.0 86.9,214.5 87.7,214.0 88.5,213.5 89.3,213.0 90.1,212.5 90.8,211.9 91.6,211.4 92.4,210.9 93.2,210.4 93.9,209.9 94.7,209.3 95.4,208.8 96.2,208.2 96.9,207.7 97.7,207.1 98.4,206.6 99.2,206.0 99.9,205.4 100.6,204.8 101.3,204.2 102.0,203.6 102.7,203.0 103.4,202.4 104.0,201.8 104.7,201.1 105.4,200.5 106.0,199.8 106.7,199.1 107.3,198.4 107.9,197.8 108.5,197.1 109.1,196.4 109.7,195.6 110.3,194.9 110.9,194.2 111.4,193.5 112.0,192.7 112.5,192.0 113.1,191.2 113.6,190.5 114.1,189.7 114.7,189.0 115.2,188.2 115.7,187.4 116.2,186.6 116.6,185.9 117.1,185.1 117.6,184.3 118.1,183.5 118.5,182.7 119.0,181.9 119.4,181.1 119.9,180.3 120.3,179.5 120.7,178.7 121.1,177.9 121.5,177.1 122.0,176.3 122.4,175.5 122.8,174.7 123.2,173.9 123.5,173.0 123.9,172.2 124.3,171.4 124.7,170.6 125.1,169.8 125.5,169.0 125.9,168.2 126.3,167.3 126.7,166.5 127.0,165.7 127.4,164.9 127.8,164.1 128.2,163.2 128.6,162.4 129.0,161.6 129.4,160.8 129.8,160.0 130.3,159.1 130.7,158.3 131.1,157.5 131.5,156.7 132.0,155.9 132.4,155.0 132.8,154.2 133.3,153.4 133.7,152.6 134.2,151.8 134.6,150.9 135.1,150.1 135.5,149.3 136.0,148.5 136.5,147.7 136.9,146.9 137.4,146.0 137.9,145.2 138.4,144.4 138.8,143.6 139.3,142.8 139.8,142.0 140.3,141.2 140.8,140.4 141.3,139.6 141.8,138.8 142.3,138.0 142.8,137.2 143.3,136.4 143.8,135.6 144.3,134.8 144.8,134.0 145.3,133.2 145.8,132.4 146.3,131.7 146.8,130.9 147.3,130.1 147.8,129.3 148.3,128.6 148.8,127.8 149.4,127.0 149.9,126.2 150.4,125.5 150.9,124.7 151.4,124.0 151.9,123.2 152.5,122.4 153.0,121.7 153.5,120.9 154.0,120.2 154.6,119.4 155.1,118.7 155.6,118.0 156.2,117.2 156.7,116.5 157.2,115.7 157.8,115.0 158.3,114.3 158.9,113.5 159.4,112.8 159.9,112.1 160.5,111.4 161.0,110.6 161.6,109.9 162.2,109.2 162.7,108.5 163.3,107.8 163.8,107.1 164.4,106.3 165.0,105.6 165.6,104.9 166.1,104.2 166.7,103.5 167.3,102.8 167.9,102.1 168.5,101.4 169.1,100.7 169.6,100.0 170.2,99.3 170.8,98.7 171.4,98.0 172.1,97.3 172.7,96.6 173.3,95.9 173.9,95.2 174.5,94.6 175.1,93.9 175.8,93.2 176.4,92.5 177.0,91.9 177.7,91.2 178.3,90.5 179.0,89.9 179.6,89.2 180.3,88.5 180.9,87.9 181.6,87.2 182.3,86.6 182.9,85.9 183.6,85.3 184.3,84.6 184.9,84.0 185.6,83.4 186.3,82.7 187.0,82.1 187.7,81.5 188.4,80.8 189.1,80.2 189.8,79.6 190.5,79.0 191.2,78.4 191.9,77.8 192.6,77.2 193.3,76.6 194.0,76.0 194.8,75.4 195.5,74.8 196.2,74.2 196.9,73.6 197.7,73.0 198.4,72.5 199.1,71.9 199.9,71.3 200.6,70.8 201.4,70.2 202.1,69.7 202.9,69.1 203.6,68.6 204.4,68.0 205.1,67.5 205.9,67.0 206.7,66.5 207.4,65.9 208.2,65.4 209.0,64.9 209.7,64.4 210.5,63.9 211.3,63.4 212.1,63.0 212.9,62.5 213.6,62.0 214.4,61.5 215.2,61.1 216.0,60.6 216.8,60.2 217.6,59.7 218.4,59.3 219.2,58.8 220.0,58.4 220.8,58.0 221.6,57.6 222.4,57.1 223.2,56.7 224.1,56.3 224.9,55.9 225.7,55.5 226.5,55.1 227.3,54.7 228.2,54.3 229.0,53.9 229.8,53.6 230.6,53.2 231.5,52.8 232.3,52.4 233.1,52.0 234.0,51.7 234.8,51.3 235.6,50.9 236.5,50.5 237.3,50.2 238.2,49.8 239.0,49.4 239.9,49.1 240.7,48.7 241.6,48.4 242.4,48.0 243.3,47.7 244.1,47.3 245.0,47.0 245.8,46.6 246.7,46.3 247.5,45.9 248.4,45.6 249.3,45.3 250.1,44.9 251.0,44.6 251.9,44.3 252.7,44.0 253.6,43.6 254.5,43.3 255.3,43.0 256.2,42.7 257.1,42.4 257.9,42.1 258.8,41.8 259.7,41.5 260.6,41.2 261.4,40.9 262.3,40.6 263.2,40.4 264.1,40.1 265.0,39.8 265.8,39.5 266.7,39.3 267.6,39.0 268.5,38.7 269.4,38.5 270.3,38.2 271.1,37.9 272.0,37.7 272.9,37.4 273.8,37.2 274.7,36.9 275.6,36.7 276.5,36.4 277.4,36.2 278.3,36.0 279.2,35.7 280.1,35.5 281.0,35.3 281.9,35.0 282.8,34.8 283.6,34.6 284.5,34.4 285.4,34.2 286.3,33.9 287.2,33.7 288.1,33.5 289.1,33.3 290.0,33.1 290.9,32.9 291.8,32.7 292.7,32.5 293.6,32.3 294.5,32.1 295.4,31.9 296.3,31.7 297.2,31.5 298.1,31.3 299.0,31.2 299.9,31.0 300.8,30.8 301.7,30.6 302.6,30.4 303.5,30.3 304.5,30.1 305.4,29.9 306.3,29.7 307.2,29.6 308.1,29.4 309.0,29.3 309.9,29.1 310.8,28.9 311.7,28.8 312.7,28.6 313.6,28.5 314.5,28.3 315.4,28.2 316.3,28.0 317.2,27.9 318.1,27.7 319.1,27.6 320.0,27.4 320.9,27.3 321.8,27.1 322.7,27.0 323.6,26.8 324.5,26.7 325.5,26.6 326.4,26.4 327.3,26.3 328.2,26.2 329.1,26.0 330.0,25.9 330.9,25.8 331.9,25.7 332.8,25.5 333.7,25.4 334.6,25.3 335.5,25.2 336.4,25.0 337.3,24.9 338.3,24.8 339.2,24.7 340.1,24.6 341.0,24.4 341.9,24.3 342.8,24.2 343.7,24.1 344.7,24.0 345.6,23.9 346.5,23.8 347.4,23.7 348.3,23.6 349.2,23.4 350.1,23.3 351.0,23.2 352.0,23.1 352.9,23.0 353.8,22.9 354.7,22.8 355.6,22.7 356.5,22.6" stroke="#ff0000" stroke-width="0.6" stroke-dasharray="1.14,1.48"/>
<path d="M64.7,224.0 L70.5,224.0 71.3,223.6 72.2,223.2 73.0,222.7 73.9,222.3 74.7,221.8 75.5,221.4 76.3,220.9 77.1,220.4 77.9,219.9 78.7,219.4 79.5,218.9 80.3,218.4 81.1,217.9 81.8,217.4 82.6,216.8 83.3,216.3 84.1,215.7 84.8,215.2 85.6,214.6 86.3,214.0 87.0,213.4 87.7,212.9 88.4,212.3 89.1,211.7 89.8,211.0 90.5,210.4 91.2,209.8 91.9,209.2 92.6,208.5 93.2,207.9 93.9,207.3 94.6,206.6 95.2,205.9 95.8,205.3 96.5,204.6 97.1,203.9 97.7,203.3 98.4,202.6 99.0,201.9 99.6,201.2 100.2,200.5 100.8,199.8 101.3,199.1 101.9,198.3 102.5,197.6 103.1,196.9 103.6,196.2 104.2,195.4 104.7,194.7 105.3,194.0 105.8,193.2 106.3,192.5 106.9,191.7 107.4,190.9 107.9,190.2 108.4,189.4 108.9,188.7 109.4,187.9 109.9,187.1 110.4,186.3 110.9,185.5 111.3,184.8 111.8,184.0 112.3,183.2 112.8,182.4 113.2,181.6 113.7,180.8 114.1,180.0 114.6,179.2 115.0,178.4 115.5,177.6 115.9,176.8 116.3,176.0 116.8,175.2 117.2,174.4 117.7,173.6 118.1,172.8 118.5,171.9 118.9,171.1 119.4,170.3 119.8,169.5 120.2,168.7 120.7,167.9 121.1,167.0 121.5,166.2 121.9,165.4 122.4,164.6 122.8,163.8 123.2,162.9 123.7,162.1 124.1,161.3 124.5,160.5 125.0,159.7 125.4,158.9 125.8,158.0 126.3,157.2 126.7,156.4 127.2,155.6 127.6,154.8 128.1,154.0 128.5,153.2 129.0,152.3 129.4,151.5 129.9,150.7 130.4,149.9 130.8,149.1 131.3,148.3 131.7,147.5 132.2,146.7 132.7,145.9 133.1,145.1 133.6,144.3 134.1,143.5 134.6,142.7 135.1,141.9 135.5,141.1 136.0,140.3 136.5,139.5 137.0,138.7 137.5,137.9 138.0,137.1 138.5,136.3 139.0,135.5 139.5,134.7 140.0,133.9 140.5,133.2 141.0,132.4 141.5,131.6 142.0,130.8 142.5,130.0 143.0,129.3 143.5,128.5 144.1,127.7 144.6,126.9 145.1,126.2 145.6,125.4 146.2,124.6 146.7,123.9 147.2,123.1 147.8,122.4 148.3,121.6 148.8,120.8 149.4,120.1 149.9,119.3 150.5,118.6 151.0,117.8 151.6,117.1 152.1,116.3 152.7,115.6 153.3,114.9 153.8,114.1 154.4,113.4 155.0,112.7 155.5,111.9 156.1,111.2 156.7,110.5 157.3,109.7 157.9,109.0 158.4,108.3 159.0,107.6 159.6,106.9 160.2,106.2 160.8,105.5 161.4,104.8 162.0,104.0 162.6,103.3 163.2,102.7 163.8,102.0 164.4,101.3 165.1,100.6 165.7,99.9 166.3,99.2 166.9,98.5 167.6,97.8 168.2,97.2 168.8,96.5 169.5,95.8 170.1,95.2 170.7,94.5 171.4,93.8 172.0,93.2 172.7,92.5 173.4,91.9 174.0,91.2 174.7,90.6 175.3,90.0 176.0,89.3 176.7,88.7 177.4,88.1 178.0,87.4 178.7,86.8 179.4,86.2 180.1,85.6 180.8,85.0 181.5,84.4 182.2,83.7 182.8,83.1 183.5,82.5 184.2,81.9 185.0,81.4 185.7,80.8 186.4,80.2 187.1,79.6 187.8,79.0 188.5,78.4 189.2,77.9 190.0,77.3 190.7,76.7 191.4,76.2 192.2,75.6 192.9,75.1 193.6,74.5 194.4,74.0 195.1,73.4 195.9,72.9 196.6,72.3 197.4,71.8 198.1,71.3 198.9,70.7 199.6,70.2 200.4,69.7 201.1,69.2 201.9,68.7 202.7,68.1 203.4,67.6 204.2,67.1 205.0,66.6 205.8,66.1 206.5,65.6 207.3,65.2 208.1,64.7 208.9,64.2 209.7,63.7 210.5,63.2 211.2,62.8 212.0,62.3 212.8,61.8 213.6,61.4 214.4,60.9 215.2,60.5 216.0,60.0 216.8,59.6 217.6,59.1 218.5,58.7 219.3,58.3 220.1,57.8 220.9,57.4 221.7,57.0 222.5,56.6 223.4,56.1 224.2,55.7 225.0,55.3 225.8,54.9 226.7,54.5 227.5,54.1 228.3,53.7 229.1,53.3 230.0,52.9 230.8,52.5 231.7,52.1 232.5,51.8 233.3,51.4 234.2,51.0 235.0,50.6 235.9,50.3 236.7,49.9 237.6,49.6 238.4,49.2 239.3,48.8 240.1,48.5 241.0,48.1 241.8,47.8 242.7,47.5 243.6,47.1 244.4,46.8 245.3,46.4 246.2,46.1 247.0,45.8 247.9,45.5 248.8,45.1 249.6,44.8 250.5,44.5 251.4,44.2 252.2,43.9 253.1,43.6 254.0,43.3 254.9,43.0 255.8,42.7 256.6,42.4 257.5,42.1 258.4,41.8 259.3,41.5 260.2,41.2 261.1,40.9 261.9,40.6 262.8,40.4 263.7,40.1 264.6,39.8 265.5,39.5 266.4,39.3 267.3,39.0 268.2,38.7 269.1,38.5 270.0,38.2 270.9,38.0 271.8,37.7 272.7,37.5 273.6,37.2 274.5,37.0 275.4,36.7 276.3,36.5 277.2,36.2 278.1,36.0 279.0,35.8 279.9,35.5 280.8,35.3 281.7,35.1 282.6,34.8 283.5,34.6 284.4,34.4 285.3,34.2 286.2,34.0 287.1,33.8 288.0,33.5 288.9,33.3 289.9,33.1 290.8,32.9 291.7,32.7 292.6,32.5 293.5,32.3 294.4,32.1 295.3,31.9 296.2,31.7 297.2,31.5 298.1,31.3 299.0,31.1 299.9,31.0 300.8,30.8 301.7,30.6 302.6,30.4 303.6,30.2 304.5,30.1 305.4,29.9 306.3,29.7 307.2,29.5 308.1,29.4 309.1,29.2 310.0,29.0 310.9,28.9 311.8,28.7 312.7,28.5 313.7,28.4 314.6,28.2 315.5,28.1 316.4,27.9 317.3,27.8 318.2,27.6 319.2,27.5 320.1,27.3 321.0,27.2 321.9,27.0 322.8,26.9 323.7,26.7 324.7,26.6 325.6,26.5 326.5,26.3 327.4,26.2 328.3,26.1 329.2,25.9 330.2,25.8 331.1,25.7 332.0,25.5 332.9,25.4 333.8,25.3 334.7,25.2 335.6,25.0 336.6,24.9 337.5,24.8 338.4,24.7 339.3,24.5 340.2,24.4 341.1,24.3 342.0,24.2 342.9,24.1 343.8,24.0 344.7,23.9 345.7,23.7 346.6,23.6 347.5,23.5 348.4,23.4 349.3,23.3 350.2,23.2 351.1,23.1 352.0,23.0 352.9,22.9 353.8,22.8 354.7,22.7 355.6,22.6 356.5,22.5" stroke="#00ff00" stroke-width="0.85" stroke-dasharray="6.38,2.11,1.05,2.11"/>
<path d="M64.7,224.0 L72.3,224.0 73.0,223.3 73.8,222.7 74.5,222.1 75.3,221.5 76.0,220.9 76.8,220.3 77.5,219.7 78.3,219.1 79.1,218.5 79.9,217.9 80.6,217.4 81.4,216.8 82.2,216.2 83.0,215.6 83.8,215.0 84.6,214.5 85.4,214.0 86.1,213.5 86.9,213.0 87.7,212.5 88.5,212.0 89.3,211.5 90.1,211.0 90.8,210.4 91.6,209.9 92.4,209.4 93.2,208.9 93.9,208.4 94.7,207.8 95.4,207.3 96.2,206.7 96.9,206.2 97.7,205.6 98.4,205.1 99.2,204.5 99.9,203.9 100.6,203.3 101.3,202.7 102.0,202.1 102.7,201.5 103.4,200.9 104.0,200.3 104.7,199.6 105.4,199.0 106.0,198.3 106.7,197.6 107.3,196.9 107.9,196.3 108.5,195.6 109.1,194.9 109.7,194.1 110.3,193.4 110.9,192.7 111.4,192.0 112.0,191.2 112.5,190.5 113.1,189.7 113.6,189.0 114.1,188.2 114.7,187.5 115.2,186.7 115.7,185.9 116.2,185.1 116.6,184.4 117.1,183.6 117.6,182.8 118.1,182.0 118.5,181.2 119.0,180.4 119.4,179.6 119.9,178.8 120.3,178.0 120.7,177.2 121.1,176.4 121.5,175.6 122.0,174.8 122.4,174.0 122.8,173.2 123.2,172.4 123.5,171.5 123.9,170.7 124.3,169.9 124.7,169.1 125.1,168.3 125.5,167.5 125.9,166.7 126.3,165.8 126.7,165.0 127.0,164.2 127.4,163.4 127.8,162.6 128.2,161.7 128.6,160.9 129.0,160.1 129.4,159.3 129.8,158.5 130.3,157.6 130.7,156.8 131.1,156.0 131.5,155.2 132.0,154.4 132.4,153.5 132.8,152.7 133.3,151.9 133.7,151.1 134.2,150.3 134.6,149.4 135.1,148.6 135.5,147.8 136.0,147.0 136.5,146.2 136.9,145.4 137.4,144.5 137.9,143.7 138.4,142.9 138.8,142.1 139.3,141.3 139.8,140.5 140.3,139.7 140.8,138.9 141.3,138.1 141.8,137.3 142.3,136.5 142.8,135.7 143.3,134.9 143.8,134.1 144.3,133.3 144.8,132.5 145.3,131.7 145.8,130.9 146.3,130.2 146.8,129.4 147.3,128.6 147.8,127.8 148.3,127.1 148.8,126.3 149.4,125.5 149.9,124.7 150.4,124.0 150.9,123.2 151.4,122.5 151.9,121.7 152.5,120.9 153.0,120.2 153.5,119.4 154.0,118.7 154.6,117.9 155.1,117.2 155.6,116.5 156.2,115.7 156.7,115.0 157.2,114.2 157.8,113.5 158.3,112.8 158.9,112.0 159.4,111.3 159.9,110.6 160.5,109.9 161.0,109.1 161.6,108.4 162.2,107.7 162.7,107.0 163.3,106.3 163.8,105.6 164.4,104.8 165.0,104.1 165.6,103.4 166.1,102.7 166.7,102.0 167.3,101.3 167.9,100.6 168.5,99.9 169.1,99.2 169.6,98.5 170.2,97.8 170.8,97.2 171.4,96.5 172.1,95.8 172.7,95.1 173.3,94.4 173.9,93.7 174.5,93.1 175.1,92.4 175.8,91.7 176.4,91.0 177.0,90.4 177.7,89.7 178.3,89.0 179.0,88.4 179.6,87.7 180.3,87.0 180.9,86.4 181.6,85.7 182.3,85.1 182.9,84.4 183.6,83.8 184.3,83.1 184.9,82.5 185.6,81.9 186.3,81.2 187.0,80.6 187.7,80.0 188.4,79.3 189.1,78.7 189.8,78.1 190.5,77.5 191.2,76.9 191.9,76.3 192.6,75.7 193.3,75.1 194.0,74.5 194.8,73.9 195.5,73.3 196.2,72.7 196.9,72.1 197.7,71.5 198.4,71.0 199.1,70.4 199.9,69.8 200.6,69.3 201.4,68.7 202.1,68.2 202.9,67.6 203.6,67.1 204.4,66.5 205.1,66.0 205.9,65.5 206.7,65.0 207.4,64.4 208.2,63.9 209.0,63.4 209.7,62.9 210.5,62.4 211.3,61.9 212.1,61.5 212.9,61.0 213.6,60.5 214.4,60.0 215.2,59.6 216.0,59.1 216.8,58.7 217.6,58.2 218.4,57.8 219.2,57.3 220.0,56.9 220.8,56.5 221.6,56.1 222.4,55.6 223.2,55.2 224.1,54.8 224.9,54.4 225.7,54.0 226.5,53.6 227.3,53.2 228.2,52.8 229.0,52.4 229.8,52.1 230.6,51.7 231.5,51.3 232.3,50.9 233.1,50.5 234.0,50.2 234.8,49.8 235.6,49.4 236.5,49.0 237.3,48.7 238.2,48.3 239.0,47.9 239.9,47.6 240.7,47.2 241.6,46.9 242.4,46.5 243.3,46.2 244.1,45.8 245.0,45.5 245.8,45.1 246.7,44.8 247.5,44.4 248.4,44.1 249.3,43.8 250.1,43.4 251.0,43.1 251.9,42.8 252.7,42.5 253.6,42.1 254.5,41.8 255.3,41.5 256.2,41.2 257.1,40.9 257.9,40.6 258.8,40.3 259.7,40.0 260.6,39.7 261.4,39.4 262.3,39.1 263.2,38.9 264.1,38.6 265.0,38.3 265.8,38.0 266.7,37.8 267.6,37.5 268.5,37.2 269.4,37.0 270.3,36.7 271.1,36.4 272.0,36.2 272.9,35.9 273.8,35.7 274.7,35.4 275.6,35.2 276.5,34.9 277.4,34.7 278.3,34.5 279.2,34.2 280.1,34.0 281.0,33.8 281.9,33.5 282.8,33.3 283.6,33.1 284.5,32.9 285.4,32.7 286.3,32.4 287.2,32.2 288.1,32.0 289.1,31.8 290.0,31.6 290.9,31.4 291.8,31.2 292.7,31.0 293.6,30.8 294.5,30.6 295.4,30.4 296.3,30.2 297.2,30.0 298.1,29.8 299.0,29.7 299.9,29.5 300.8,29.3 301.7,29.1 302.6,28.9 303.5,28.8 304.5,28.6 305.4,28.4 306.3,28.2 307.2,28.1 308.1,27.9 309.0,27.8 309.9,27.6 310.8,27.4 311.7,27.3 312.7,27.1 313.6,27.0 314.5,26.8 315.4,26.7 316.3,26.5 317.2,26.4 318.1,26.2 319.1,26.1 320.0,25.9 320.9,25.8 321.8,25.6 322.7,25.5 323.6,25.3 324.5,25.2 325.5,25.1 326.4,24.9 327.3,24.8 328.2,24.7 329.1,24.5 330.0,24.4 330.9,24.3 331.9,24.2 332.8,24.0 333.7,23.9 334.6,23.8 335.5,23.7 336.4,23.5 337.3,23.4 338.3,23.3 339.2,23.2 340.1,23.1 341.0,22.9 341.9,22.8 342.8,22.7 343.7,22.6 344.7,22.5 345.6,22.4 346.5,22.3 347.4,22.2 348.3,22.1 349.2,21.9 350.1,21.8 351.0,21.7 352.0,21.6 352.9,21.5 353.8,21.4 354.7,21.3 355.6,21.2 356.5,21.1" stroke="#ffa500" stroke-width="0.85" stroke-dasharray="6.33,2.11,1.05,2.11,1.05,2.11" stroke-dashoffset="11.60"/>
</g>
<g font-family="Liberation Sans, sans-serif" font-size="11.6" fill="#000" text-anchor="end">
<text x="254.5" y="102.45">RPWIA (DUNE)</text>
<text x="254.5" y="114.09">rROP (DUNE)</text>
<text x="254.5" y="125.72">ED-RMF (DUNE)</text>
<text x="254.5" y="137.36">ROP (DUNE)</text>
<text x="254.5" y="148.99">SFA (DUNE)</text>
<text x="254.5" y="160.62">RPWIA (T2K)</text>
<text x="254.5" y="172.26">rROP (T2K)</text>
<text x="254.5" y="183.89">ED-RMF (T2K)</text>
<text x="254.5" y="195.53">ROP (T2K)</text>
<text x="254.5" y="207.17">SFA (T2K)</text>
</g>
<g fill="none">
<path d="M261.8,98.95H334.8" stroke="#000000" stroke-width="2.3"/>
<path d="M261.8,110.56H334.8" stroke="#0000ff" stroke-width="2.3" stroke-dasharray="7.90,10.50"/>
<path d="M261.8,122.17H334.8" stroke="#ff0000" stroke-width="2.3" stroke-dasharray="4.00,5.20"/>
<path d="M261.8,133.78H334.8" stroke="#00ff00" stroke-width="2.3" stroke-dasharray="22.40,7.40,3.70,7.40"/>
<path d="M261.8,145.39H334.8" stroke="#ffa500" stroke-width="2.3" stroke-dasharray="22.20,7.40,3.70,7.40,3.70,7.40" stroke-dashoffset="40.70"/>
<path d="M261.8,157.00H334.8" stroke="#000000" stroke-width="0.7"/>
<path d="M261.8,168.61H334.8" stroke="#0000ff" stroke-width="0.7" stroke-dasharray="2.25,2.99"/>
<path d="M261.8,180.22H334.8" stroke="#ff0000" stroke-width="0.7" stroke-dasharray="1.14,1.48"/>
<path d="M261.8,191.83H334.8" stroke="#00ff00" stroke-width="0.7" stroke-dasharray="6.38,2.11,1.05,2.11"/>
<path d="M261.8,203.44H334.8" stroke="#ffa500" stroke-width="0.7" stroke-dasharray="6.33,2.11,1.05,2.11,1.05,2.11" stroke-dashoffset="11.60"/>
</g>
<g font-family="Liberation Sans, sans-serif" font-size="13.0" fill="#000">
<text x="56.5" y="228.30" text-anchor="end">0</text>
<text x="56.5" y="207.21" text-anchor="end">10</text>
<text x="56.5" y="186.12" text-anchor="end">20</text>
<text x="56.5" y="165.03" text-anchor="end">30</text>
<text x="56.5" y="143.94" text-anchor="end">40</text>
<text x="56.5" y="122.85" text-anchor="end">50</text>
<text x="56.5" y="101.76" text-anchor="end">60</text>
<text x="56.5" y="80.67" text-anchor="end">70</text>
<text x="56.5" y="59.58" text-anchor="end">80</text>
<text x="56.5" y="38.49" text-anchor="end">90</text>
<text x="56.5" y="17.40" text-anchor="end">100</text>
<text x="66.20" y="241.3" text-anchor="middle">0</text>
<text x="95.38" y="241.3" text-anchor="middle">1</text>
<text x="124.56" y="241.3" text-anchor="middle">2</text>
<text x="153.74" y="241.3" text-anchor="middle">3</text>
<text x="182.92" y="241.3" text-anchor="middle">4</text>
<text x="212.10" y="241.3" text-anchor="middle">5</text>
<text x="241.28" y="241.3" text-anchor="middle">6</text>
<text x="270.46" y="241.3" text-anchor="middle">7</text>
<text x="299.64" y="241.3" text-anchor="middle">8</text>
<text x="328.82" y="241.3" text-anchor="middle">9</text>
<text x="358.00" y="241.3" text-anchor="middle">10</text>
<text x="210.25" y="261.8" text-anchor="middle"><tspan font-size="11.2">Δ</tspan><tspan dx="0.9">E/&lt;E&gt; (%)</tspan></text>
<text transform="translate(16.8,118.6) rotate(-90)" text-anchor="middle" font-size="13.3">% of events</text>
</g>
</svg>
</body></html>
